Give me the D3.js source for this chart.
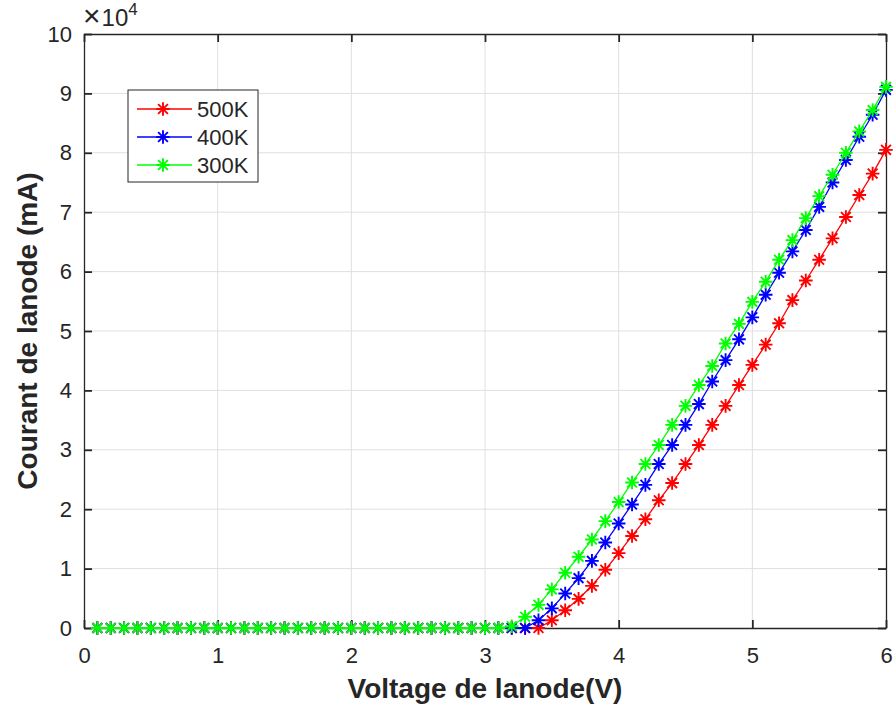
<!DOCTYPE html>
<html>
<head>
<meta charset="utf-8">
<script src="https://cdn.jsdelivr.net/npm/d3@7"></script>
<style>
	body { margin: 0; background: #fff; }
	svg text { font-family: "Liberation Sans", Arial, sans-serif; fill: #262626; }
</style>
</head>
<body>
<svg id="chart" width="894" height="708"></svg>
<script>
// anode voltage (V), 0.1 .. 6.0
var voltage = d3.range(1, 61).map(function (i) { return i / 10; });

// anode current, in units of 1e4 mA
var zeros = function (n) { return d3.range(n).map(function () { return 0; }); };
var cur500 = zeros(34).concat([0.13, 0.30, 0.49, 0.71, 0.98, 1.26, 1.55, 1.83, 2.15, 2.44,
	2.76, 3.08, 3.42, 3.74, 4.09, 4.43, 4.77, 5.13, 5.52, 5.85, 6.20, 6.56, 6.92, 7.29, 7.65, 8.05]);
var cur400 = zeros(33).concat([0.13, 0.33, 0.58, 0.84, 1.13, 1.44, 1.76, 2.08, 2.41, 2.76,
	3.08, 3.42, 3.77, 4.15, 4.51, 4.86, 5.23, 5.61, 5.98, 6.34, 6.70, 7.09, 7.50, 7.88, 8.27, 8.64, 9.06]);
var cur300 = zeros(31).concat([0.03, 0.19, 0.39, 0.65, 0.93, 1.20, 1.49, 1.80, 2.12, 2.45,
	2.76, 3.08, 3.42, 3.74, 4.09, 4.41, 4.79, 5.12, 5.49, 5.83, 6.20, 6.53, 6.90, 7.27, 7.63,
	8.00, 8.36, 8.72, 9.11]);

var seriesNames = ["500K", "400K", "300K"];
var seriesColors = ["#ff0000", "#0000ff", "#00ff00"];
var seriesValues = [cur500, cur400, cur300];

var xTicks = [0, 1, 2, 3, 4, 5, 6];
var yTicks = [0, 1, 2, 3, 4, 5, 6, 7, 8, 9, 10];

var margin = {left: 84, top: 34, right: 8, bottom: 80},
	width = 894 - margin.left - margin.right,
	height = 708 - margin.top - margin.bottom;

var svg = d3.select("#chart");
var g = svg.append("g").attr("transform", "translate(" + margin.left + "," + margin.top + ")");

var xscale = d3.scaleLinear().domain([0, 6]).range([0, width]);
var yscale = d3.scaleLinear().domain([0, 10]).range([height, 0]);

// grid
g.append("g").selectAll("line").data(xTicks.slice(1, -1)).enter().append("line")
	.attr("x1", function (d) { return xscale(d); })
	.attr("x2", function (d) { return xscale(d); })
	.attr("y1", 0).attr("y2", height)
	.attr("stroke", "#dfdfdf").attr("stroke-width", 1);
g.append("g").selectAll("line").data(yTicks.slice(1, -1)).enter().append("line")
	.attr("y1", function (d) { return yscale(d); })
	.attr("y2", function (d) { return yscale(d); })
	.attr("x1", 0).attr("x2", width)
	.attr("stroke", "#dfdfdf").attr("stroke-width", 1);

// axes, ticks pointing inward, box on
function styleAxis(sel) {
	sel.select(".domain").attr("stroke", "#262626").attr("stroke-width", 1.3);
	sel.selectAll(".tick line").attr("stroke", "#262626").attr("stroke-width", 1.8);
	sel.selectAll("text").attr("font-size", "22px").attr("fill", "#262626");
}
var fmt = d3.format("d");
g.append("g").attr("transform", "translate(0," + height + ")")
	.call(d3.axisBottom(xscale).tickValues(xTicks).tickFormat(fmt).tickSizeInner(-8).tickSizeOuter(0).tickPadding(19))
	.call(styleAxis);
g.append("g")
	.call(d3.axisLeft(yscale).tickValues(yTicks).tickFormat(fmt).tickSizeInner(-8).tickSizeOuter(0).tickPadding(12))
	.call(styleAxis);
g.append("g")
	.call(d3.axisTop(xscale).tickValues(xTicks).tickFormat("").tickSizeInner(-8).tickSizeOuter(0))
	.call(styleAxis);
g.append("g").attr("transform", "translate(" + width + ",0)")
	.call(d3.axisRight(yscale).tickValues(yTicks).tickFormat("").tickSizeInner(-8).tickSizeOuter(0))
	.call(styleAxis);
g.selectAll(".domain").attr("fill", "none");

// asterisk marker
function asterisk(sel, r) {
	var a = r * 0.72;
	sel.append("path")
		.attr("d", "M" + (-r) + ",0H" + r + "M0," + (-r) + "V" + r +
			"M" + (-a) + "," + (-a) + "L" + a + "," + a + "M" + (-a) + "," + a + "L" + a + "," + (-a))
		.attr("fill", "none");
}

var line = d3.line()
	.x(function (d, i) { return xscale(voltage[i]); })
	.y(function (d) { return yscale(d); });

seriesValues.forEach(function (vals, k) {
	var sg = g.append("g");
	sg.append("path").datum(vals)
		.attr("d", line)
		.attr("fill", "none")
		.attr("stroke", seriesColors[k])
		.attr("stroke-width", 1.3);
	sg.selectAll("g.mk").data(vals).enter().append("g")
		.attr("class", "mk")
		.attr("transform", function (d, i) { return "translate(" + xscale(voltage[i]) + "," + yscale(d) + ")"; })
		.attr("stroke", seriesColors[k])
		.attr("stroke-width", 1.9)
		.each(function () { asterisk(d3.select(this), 6.8); });
});

// exponent label (x10^4)
var ex = svg.append("text").attr("x", 83).attr("y", 26).attr("font-size", "24px");
ex.append("tspan").attr("font-size", "30px").attr("font-weight", "300").text("\u00d7");
ex.append("tspan").attr("dx", 1).text("10");
ex.append("tspan").attr("font-size", "17px").attr("dy", -11).text("4");

// axis titles
svg.append("text")
	.attr("x", margin.left + width / 2).attr("y", 698)
	.attr("text-anchor", "middle")
	.attr("font-size", "28px").attr("font-weight", "bold")
	.text("Voltage de lanode(V)");
svg.append("text")
	.attr("transform", "translate(37," + (margin.top + height / 2) + ") rotate(-90)")
	.attr("text-anchor", "middle")
	.attr("font-size", "28px").attr("font-weight", "bold")
	.text("Courant de lanode (mA)");

// legend
var leg = svg.append("g").attr("transform", "translate(128,90)");
leg.append("rect").attr("width", 130).attr("height", 92)
	.attr("fill", "#fff").attr("stroke", "#262626").attr("stroke-width", 1);
seriesNames.forEach(function (name, k) {
	var row = leg.append("g").attr("transform", "translate(0," + (19 + k * 28) + ")");
	row.append("line").attr("x1", 9).attr("x2", 64)
		.attr("stroke", seriesColors[k]).attr("stroke-width", 1.3);
	var m = row.append("g").attr("transform", "translate(35,0)")
		.attr("stroke", seriesColors[k]).attr("stroke-width", 1.9);
	asterisk(m, 6.8);
	row.append("text").attr("x", 69).attr("y", 8).attr("font-size", "22px").text(name);
});
</script>
</body>
</html>
